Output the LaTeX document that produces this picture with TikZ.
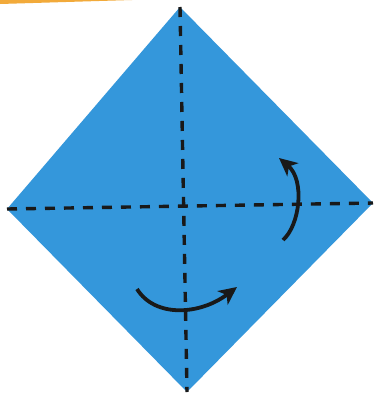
\documentclass[tikz,border=0pt]{standalone}
\usetikzlibrary{arrows.meta}
\definecolor{paper}{HTML}{3497DB}
\definecolor{band}{HTML}{F2AA3A}
\tikzset{
  foldline/.style={line width=3.4pt, dash pattern=on 10pt off 9pt, black!90},
  turnarrow/.style={line width=3.8pt, black!90, -{Stealth[length=18pt,width=17pt,inset=5pt]}}
}
\begin{document}
\begin{tikzpicture}[x=1pt,y=-1pt]
\useasboundingbox (0,0) rectangle (375,394);
\fill[white] (0,0) rectangle (375,394);
\fill[band] (0,0) -- (132,0) -- (0,4) -- cycle;
\coordinate (T) at (180,7);
\coordinate (R) at (373,203);
\coordinate (B) at (187,392);
\coordinate (L) at (7,209);
\fill[paper] (T) -- (R) -- (B) -- (L) -- cycle;
\draw[foldline] (L) -- (R);
\draw[foldline] (T) -- (B);
\coordinate (a1) at (137,289);
\coordinate (a2) at (237,287);
\draw[turnarrow] (a1) .. controls (155,318) and (200,315) .. (a2);
\coordinate (b1) at (283,240);
\coordinate (b2) at (279,158);
\draw[turnarrow] (b1) .. controls (300,225) and (305,180) .. (b2);
\end{tikzpicture}
\end{document}
